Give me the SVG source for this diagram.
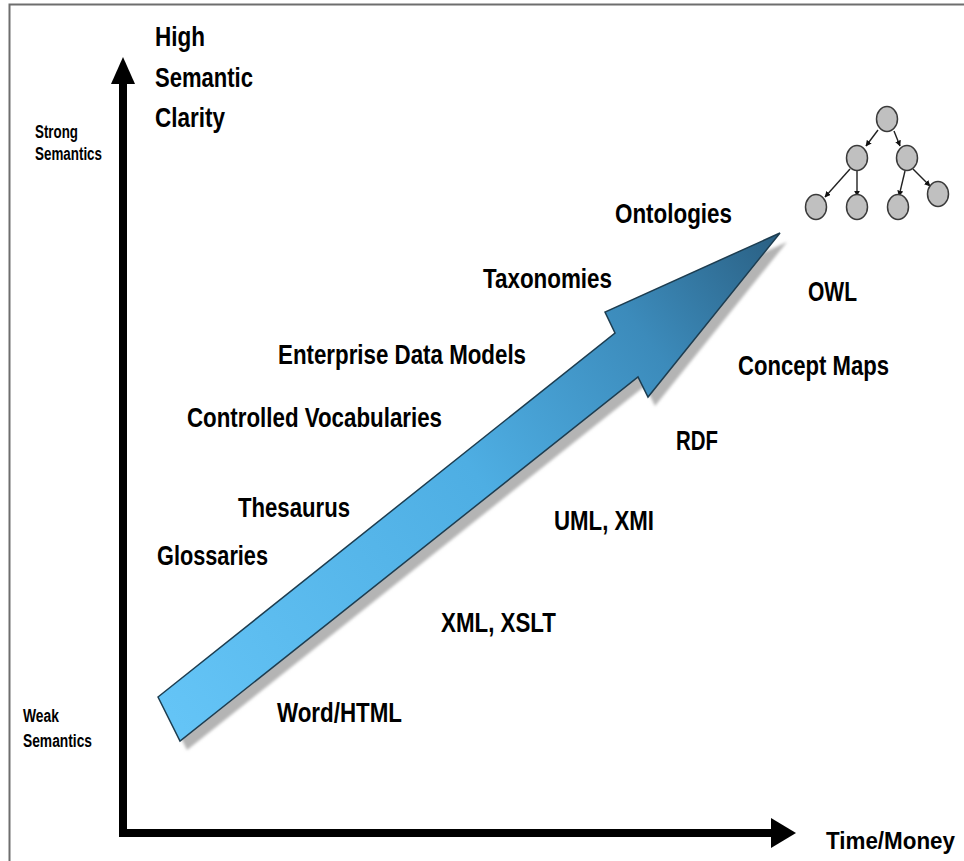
<svg xmlns="http://www.w3.org/2000/svg" width="964" height="861" viewBox="0 0 964 861">
  <style>
    .lbl { font-family: "Liberation Sans Narrow", "Liberation Sans", Arial, sans-serif; font-weight: bold; fill: #000; }
    .big { font-size: 28px; }
    .title { font-size: 27px; }
    .side { font-size: 18px; }
    .axis { fill: none; stroke: #000; stroke-width: 8; stroke-linejoin: miter; }
    .node { fill: #c0c0c0; stroke: #3a3a3a; stroke-width: 1.5; }
    .edge { stroke: #222; stroke-width: 1.4; fill: none; marker-end: url(#tip); }
  </style>
  <defs>
    <linearGradient id="arrowFill" gradientUnits="userSpaceOnUse" x1="160" y1="700" x2="780" y2="233">
      <stop offset="0" stop-color="#64c4f6"/>
      <stop offset="0.5" stop-color="#4eaee3"/>
      <stop offset="0.78" stop-color="#3c8bbb"/>
      <stop offset="1" stop-color="#2a5f82"/>
    </linearGradient>
    <filter id="soft" x="-10%" y="-10%" width="120%" height="120%">
      <feGaussianBlur stdDeviation="1.6"/>
    </filter>
    <marker id="tip" viewBox="0 0 10 10" refX="9" refY="5" markerWidth="6" markerHeight="6" markerUnits="userSpaceOnUse" orient="auto">
      <path d="M0,0 L10,5 L0,10 z" fill="#111"/>
    </marker>
  </defs>

  <!-- page background and frame -->
  <rect x="0" y="0" width="964" height="861" fill="#fff"/>
  <path d="M9.5,861 L9.5,4.5 L964,4.5" fill="none" stroke="#6e6e6e" stroke-width="2"/>

  <!-- axes -->
  <g id="axes">
    <path class="axis" d="M123,80 L123,833 L775,833"/>
    <polygon points="123,57 135,84 111,84" fill="#000"/>
    <polygon points="796,833 771,818 771,848" fill="#000"/>
  </g>

  <!-- rising arrow with drop shadow -->
  <g id="trend-arrow">
    <polygon points="165,706 622,342 612,321 787,242 655,406 645,386 187,750" fill="#b4b4b4" filter="url(#soft)"/>
    <polygon points="158,697 615,333 605,312 780,233 648,397 638,377 180,741" fill="url(#arrowFill)" stroke="#1d3d50" stroke-width="1.5" stroke-linejoin="miter"/>
  </g>

  <!-- axis captions -->
  <g id="y-caption">
    <text class="lbl title" x="155" y="46" textLength="50" lengthAdjust="spacingAndGlyphs">High</text>
    <text class="lbl title" x="155" y="87" textLength="98" lengthAdjust="spacingAndGlyphs">Semantic</text>
    <text class="lbl title" x="155" y="127" textLength="70" lengthAdjust="spacingAndGlyphs">Clarity</text>
  </g>
  <g id="strong">
    <text class="lbl side" x="35" y="138" textLength="43" lengthAdjust="spacingAndGlyphs">Strong</text>
    <text class="lbl side" x="35" y="160" textLength="67" lengthAdjust="spacingAndGlyphs">Semantics</text>
  </g>
  <g id="weak">
    <text class="lbl side" x="23" y="722" textLength="36" lengthAdjust="spacingAndGlyphs">Weak</text>
    <text class="lbl side" x="23" y="747" textLength="69" lengthAdjust="spacingAndGlyphs">Semantics</text>
  </g>
  <g id="x-caption">
    <text class="lbl" style="font-size:23px" x="826" y="849" textLength="129" lengthAdjust="spacingAndGlyphs">Time/Money</text>
  </g>

  <!-- semantic levels -->
  <g id="ontologies"><text class="lbl big" x="615" y="223" textLength="117" lengthAdjust="spacingAndGlyphs">Ontologies</text></g>
  <g id="taxonomies"><text class="lbl big" x="483" y="288" textLength="129" lengthAdjust="spacingAndGlyphs">Taxonomies</text></g>
  <g id="enterprise-data-models"><text class="lbl big" x="278" y="364" textLength="248" lengthAdjust="spacingAndGlyphs">Enterprise Data Models</text></g>
  <g id="controlled-vocabularies"><text class="lbl big" x="187" y="427" textLength="255" lengthAdjust="spacingAndGlyphs">Controlled Vocabularies</text></g>
  <g id="thesaurus"><text class="lbl big" x="238" y="517" textLength="112" lengthAdjust="spacingAndGlyphs">Thesaurus</text></g>
  <g id="glossaries"><text class="lbl big" x="157" y="565" textLength="111" lengthAdjust="spacingAndGlyphs">Glossaries</text></g>
  <g id="word-html"><text class="lbl big" x="277" y="722" textLength="125" lengthAdjust="spacingAndGlyphs">Word/HTML</text></g>
  <g id="xml-xslt"><text class="lbl big" x="441" y="632" textLength="115" lengthAdjust="spacingAndGlyphs">XML, XSLT</text></g>
  <g id="uml-xmi"><text class="lbl big" x="554" y="530" textLength="100" lengthAdjust="spacingAndGlyphs">UML, XMI</text></g>
  <g id="rdf"><text class="lbl big" x="676" y="450" textLength="42" lengthAdjust="spacingAndGlyphs">RDF</text></g>
  <g id="concept-maps"><text class="lbl big" x="738" y="375" textLength="151" lengthAdjust="spacingAndGlyphs">Concept Maps</text></g>
  <g id="owl"><text class="lbl big" x="808" y="301" textLength="49" lengthAdjust="spacingAndGlyphs">OWL</text></g>

  <!-- small hierarchy icon -->
  <g id="tree-edges">
    <line class="edge" x1="878" y1="130" x2="866" y2="146"/>
    <line class="edge" x1="894" y1="131" x2="900" y2="146"/>
    <line class="edge" x1="850" y1="169" x2="825" y2="197"/>
    <line class="edge" x1="857" y1="171" x2="857" y2="196"/>
    <line class="edge" x1="905" y1="171" x2="899" y2="196"/>
    <line class="edge" x1="913" y1="169" x2="930" y2="186"/>
  </g>
  <g id="tree-root"><ellipse class="node" cx="887" cy="119" rx="10.5" ry="12.5"/></g>
  <g id="tree-l2a"><ellipse class="node" cx="857" cy="158" rx="10.5" ry="12.5"/></g>
  <g id="tree-l2b"><ellipse class="node" cx="907" cy="158" rx="10.5" ry="12.5"/></g>
  <g id="tree-l3a"><ellipse class="node" cx="816" cy="207" rx="10.5" ry="12.5"/></g>
  <g id="tree-l3b"><ellipse class="node" cx="857" cy="207" rx="10.5" ry="12.5"/></g>
  <g id="tree-l3c"><ellipse class="node" cx="898" cy="207" rx="10.5" ry="12.5"/></g>
  <g id="tree-l3d"><ellipse class="node" cx="938" cy="194" rx="10.5" ry="12.5"/></g>
</svg>
